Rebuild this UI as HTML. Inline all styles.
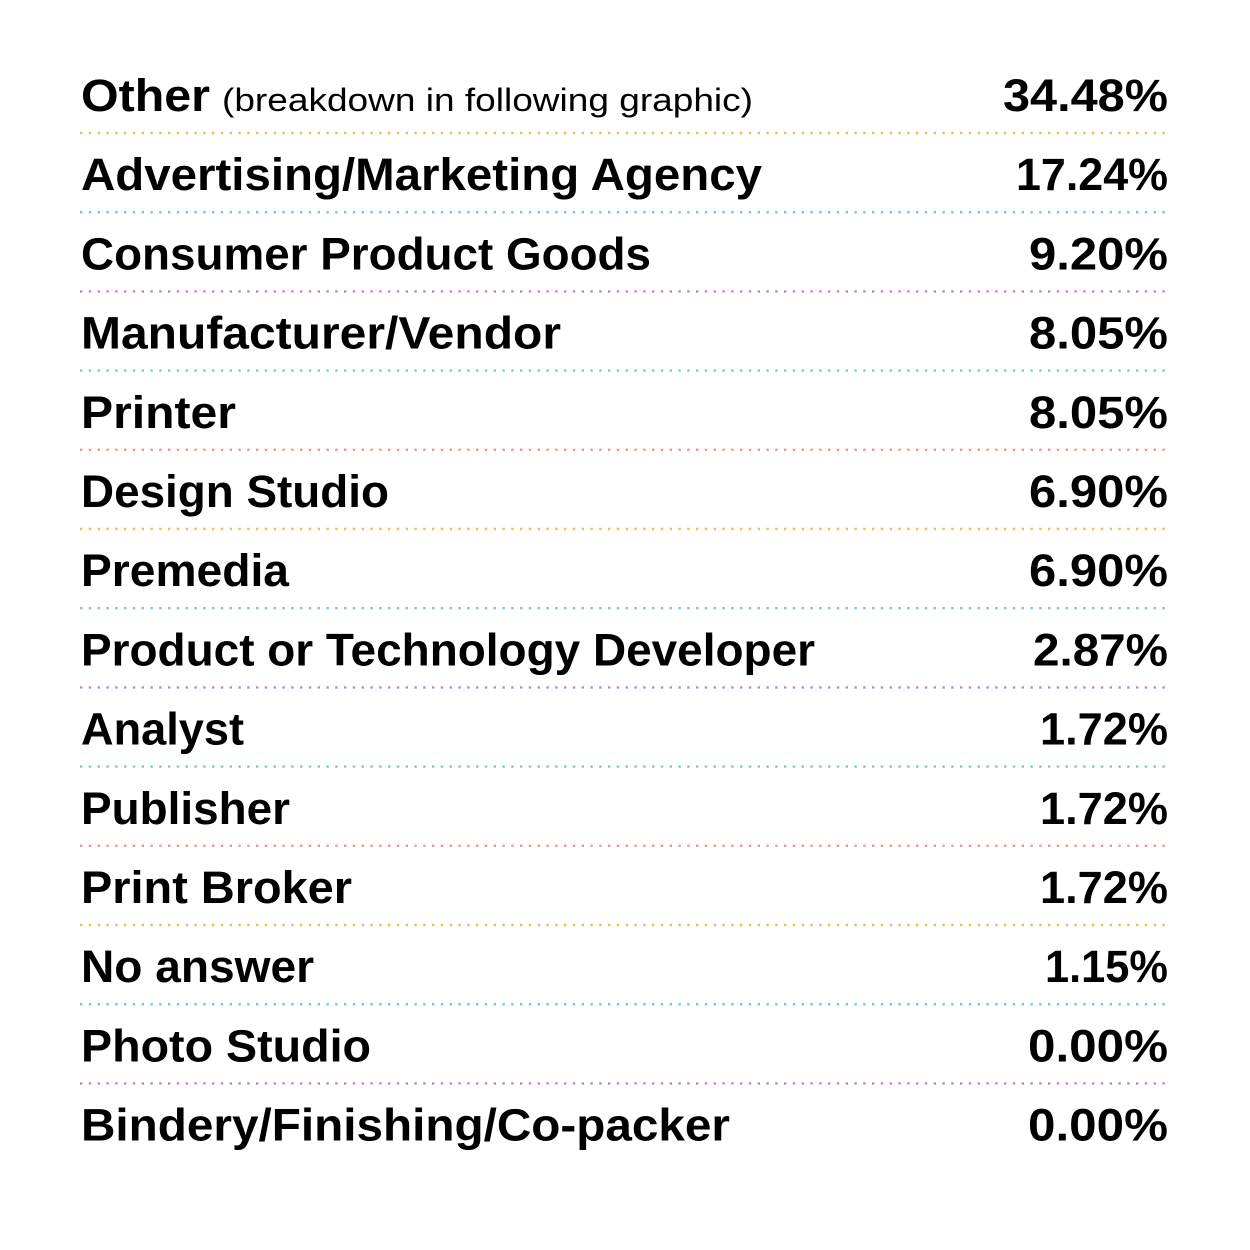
<!DOCTYPE html>
<html><head><meta charset="utf-8"><style>html,body{margin:0;padding:0;background:#fff;}svg{display:block}</style></head>
<body>
<svg width="1250" height="1250" viewBox="0 0 1250 1250" xmlns="http://www.w3.org/2000/svg" font-family="Liberation Sans, sans-serif" font-weight="bold" fill="#000">
<g stroke-width="2.4" stroke-dasharray="2.4 6.4">
<line x1="80" x2="1170" y1="133" y2="133" stroke="#f5bd50"/>
<line x1="80" x2="1170" y1="212.2" y2="212.2" stroke="#7cc2e8"/>
<line x1="80" x2="1170" y1="291.4" y2="291.4" stroke="#b888d2"/>
<line x1="80" x2="1170" y1="370.6" y2="370.6" stroke="#78d69a"/>
<line x1="80" x2="1170" y1="449.8" y2="449.8" stroke="#f39390"/>
<line x1="80" x2="1170" y1="529" y2="529" stroke="#f5bd50"/>
<line x1="80" x2="1170" y1="608.2" y2="608.2" stroke="#7cc2e8"/>
<line x1="80" x2="1170" y1="687.4" y2="687.4" stroke="#b888d2"/>
<line x1="80" x2="1170" y1="766.6" y2="766.6" stroke="#78d69a"/>
<line x1="80" x2="1170" y1="845.8" y2="845.8" stroke="#f39390"/>
<line x1="80" x2="1170" y1="925" y2="925" stroke="#f5bd50"/>
<line x1="80" x2="1170" y1="1004.2" y2="1004.2" stroke="#7cc2e8"/>
<line x1="80" x2="1170" y1="1083.4" y2="1083.4" stroke="#b888d2"/>
</g>
<g font-size="45">
<text x="81" y="111" textLength="129" lengthAdjust="spacingAndGlyphs">Other</text>
<text x="222" y="111" font-size="32" font-weight="normal" textLength="531" lengthAdjust="spacingAndGlyphs">(breakdown in following graphic)</text>
<text x="81" y="190.2" textLength="681" lengthAdjust="spacingAndGlyphs">Advertising/Marketing Agency</text>
<text x="81" y="269.4" textLength="570" lengthAdjust="spacingAndGlyphs">Consumer Product Goods</text>
<text x="81" y="348.6" textLength="480" lengthAdjust="spacingAndGlyphs">Manufacturer/Vendor</text>
<text x="81" y="427.8" textLength="155" lengthAdjust="spacingAndGlyphs">Printer</text>
<text x="81" y="507" textLength="308" lengthAdjust="spacingAndGlyphs">Design Studio</text>
<text x="81" y="586.2" textLength="208" lengthAdjust="spacingAndGlyphs">Premedia</text>
<text x="81" y="665.4" textLength="734" lengthAdjust="spacingAndGlyphs">Product or Technology Developer</text>
<text x="81" y="744.6" textLength="163" lengthAdjust="spacingAndGlyphs">Analyst</text>
<text x="81" y="823.8" textLength="209" lengthAdjust="spacingAndGlyphs">Publisher</text>
<text x="81" y="903" textLength="271" lengthAdjust="spacingAndGlyphs">Print Broker</text>
<text x="81" y="982.2" textLength="233" lengthAdjust="spacingAndGlyphs">No answer</text>
<text x="81" y="1061.4" textLength="290" lengthAdjust="spacingAndGlyphs">Photo Studio</text>
<text x="81" y="1140.6" textLength="649" lengthAdjust="spacingAndGlyphs">Bindery/Finishing/Co-packer</text>
</g>
<g font-size="45">
<text x="1003" y="111" textLength="165" lengthAdjust="spacingAndGlyphs">34.48%</text>
<text x="1016" y="190.2" textLength="152" lengthAdjust="spacingAndGlyphs">17.24%</text>
<text x="1029" y="269.4" textLength="139" lengthAdjust="spacingAndGlyphs">9.20%</text>
<text x="1029" y="348.6" textLength="139" lengthAdjust="spacingAndGlyphs">8.05%</text>
<text x="1029" y="427.8" textLength="139" lengthAdjust="spacingAndGlyphs">8.05%</text>
<text x="1029" y="507" textLength="139" lengthAdjust="spacingAndGlyphs">6.90%</text>
<text x="1029" y="586.2" textLength="139" lengthAdjust="spacingAndGlyphs">6.90%</text>
<text x="1033" y="665.4" textLength="135" lengthAdjust="spacingAndGlyphs">2.87%</text>
<text x="1040" y="744.6" textLength="128" lengthAdjust="spacingAndGlyphs">1.72%</text>
<text x="1040" y="823.8" textLength="128" lengthAdjust="spacingAndGlyphs">1.72%</text>
<text x="1040" y="903" textLength="128" lengthAdjust="spacingAndGlyphs">1.72%</text>
<text x="1045" y="982.2" textLength="123" lengthAdjust="spacingAndGlyphs">1.15%</text>
<text x="1028" y="1061.4" textLength="140" lengthAdjust="spacingAndGlyphs">0.00%</text>
<text x="1028" y="1140.6" textLength="140" lengthAdjust="spacingAndGlyphs">0.00%</text>
</g>
</svg>
</body></html>
